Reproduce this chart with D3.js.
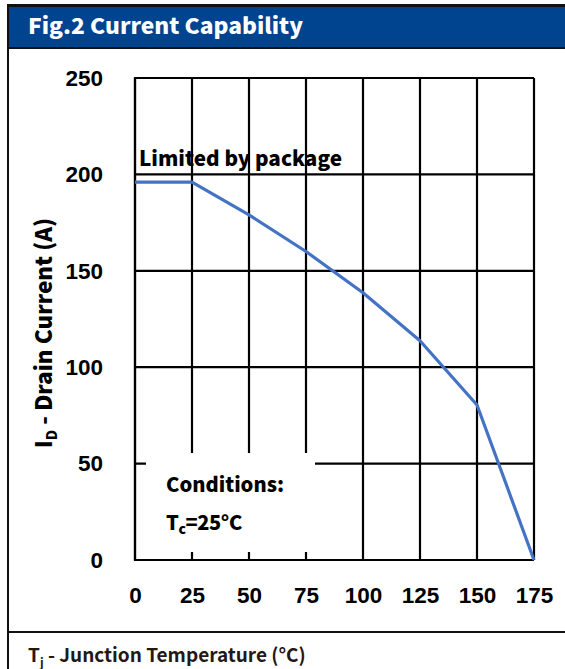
<!DOCTYPE html>
<html>
<head>
<meta charset="utf-8">
<script src="https://cdn.jsdelivr.net/npm/d3@7"></script>
<style>
  html, body { margin: 0; padding: 0; background: #fff; }
  svg { display: block; font-family: "Noto Sans CJK SC", "Noto Sans", sans-serif; font-weight: 900; }
</style>
</head>
<body>
<svg id="chart" width="565" height="669"></svg>
<script>
// Junction temperature (°C) and maximum drain current (A)
const temperatures = [0, 25, 50, 75, 100, 125, 150, 175];
const drainCurrent = [196, 196, 179, 160, 138.6, 113.7, 80.4, 0];
const xTicks = [0, 25, 50, 75, 100, 125, 150, 175];
const yTicks = [0, 50, 100, 150, 200, 250];

const svg = d3.select("#chart");
const W = 565, H = 669;

// Outer frame and title bar
svg.append("rect").attr("x", 8).attr("y", 5).attr("width", W).attr("height", H)
  .attr("fill", "#fff").attr("stroke", "#111").attr("stroke-width", 2);
svg.append("rect").attr("x", 8).attr("y", 6).attr("width", W).attr("height", 42)
  .attr("fill", "#00448f").attr("stroke", "#111").attr("stroke-width", 2);
svg.append("text").attr("x", 28).attr("y", 34).attr("fill", "#fff")
  .attr("font-size", 21.5).attr("textLength", 275).attr("lengthAdjust", "spacingAndGlyphs")
  .text("Fig.2 Current Capability");

// Separator above the x-axis title
svg.append("line").attr("x1", 8).attr("x2", W).attr("y1", 632).attr("y2", 632)
  .attr("stroke", "#111").attr("stroke-width", 2);

const x = d3.scaleLinear().domain([0, 175]).range([135, 534]);
const y = d3.scaleLinear().domain([0, 250]).range([560, 78]);

// Grid
const grid = svg.append("g").attr("stroke", "#000").attr("stroke-width", 2.2);
grid.selectAll("line.v").data(xTicks).join("line").attr("class", "v")
  .attr("x1", d => x(d)).attr("x2", d => x(d)).attr("y1", y(0)).attr("y2", y(250));
grid.selectAll("line.h").data(yTicks).join("line").attr("class", "h")
  .attr("x1", x(0)).attr("x2", x(175)).attr("y1", d => y(d)).attr("y2", d => y(d));
grid.append("line").attr("x1", x(0)).attr("x2", x(0)).attr("y1", y(0) + 1).attr("y2", y(250) - 1);

// Axis tick labels
const xAxis = svg.append("g").attr("transform", `translate(0,${y(0)})`)
  .call(d3.axisBottom(x).tickValues(xTicks).tickSize(0).tickPadding(27));
xAxis.select(".domain").remove();
xAxis.selectAll("text").attr("font-size", 22.5).attr("font-family", null).attr("fill", "#000");

const yAxis = svg.append("g").attr("transform", `translate(${x(0)},0)`)
  .call(d3.axisLeft(y).tickValues(yTicks).tickSize(0).tickPadding(32));
yAxis.select(".domain").remove();
yAxis.selectAll("text").attr("font-size", 22.5).attr("font-family", null).attr("fill", "#000");

// Conditions box (white panel over the lower-left grid)
svg.append("rect").attr("x", 146).attr("y", 453).attr("width", 169).attr("height", 99).attr("fill", "#fff");
svg.append("text").attr("x", 166).attr("y", 492).attr("font-size", 20)
  .attr("textLength", 118).attr("lengthAdjust", "spacingAndGlyphs").text("Conditions:");
const tc = svg.append("text").attr("x", 166).attr("y", 530).attr("font-size", 20).attr("letter-spacing", -0.4);
tc.append("tspan").text("T");
tc.append("tspan").attr("font-size", 14).attr("dy", 4).text("c");
tc.append("tspan").attr("dy", -4).text("=25°C");

// Current curve
const line = d3.line().x((d, i) => x(temperatures[i])).y(d => y(d));
svg.append("path").datum(drainCurrent).attr("d", line)
  .attr("fill", "none").attr("stroke", "#4472c4").attr("stroke-width", 3.2)
  .attr("stroke-linejoin", "round");

svg.append("text").attr("x", 139).attr("y", 166).attr("font-size", 20.5)
  .attr("textLength", 203).attr("lengthAdjust", "spacingAndGlyphs").text("Limited by package");

// Axis titles
const yt = svg.append("text").attr("transform", `translate(52,333) rotate(-90)`)
  .attr("text-anchor", "middle").attr("font-size", 22.5);
yt.append("tspan").text("I");
yt.append("tspan").attr("font-size", 14).attr("dy", 5).text("D");
yt.append("tspan").attr("dy", -5).text(" - Drain Current (A)");

const xt = svg.append("text").attr("x", 28).attr("y", 662).attr("font-size", 19)
  .attr("font-weight", 700).attr("fill", "#231815");
xt.append("tspan").text("T");
xt.append("tspan").attr("font-size", 12).attr("dy", 5).text("j");
xt.append("tspan").attr("dy", -5).text(" - Junction Temperature (°C)");
</script>
</body>
</html>
